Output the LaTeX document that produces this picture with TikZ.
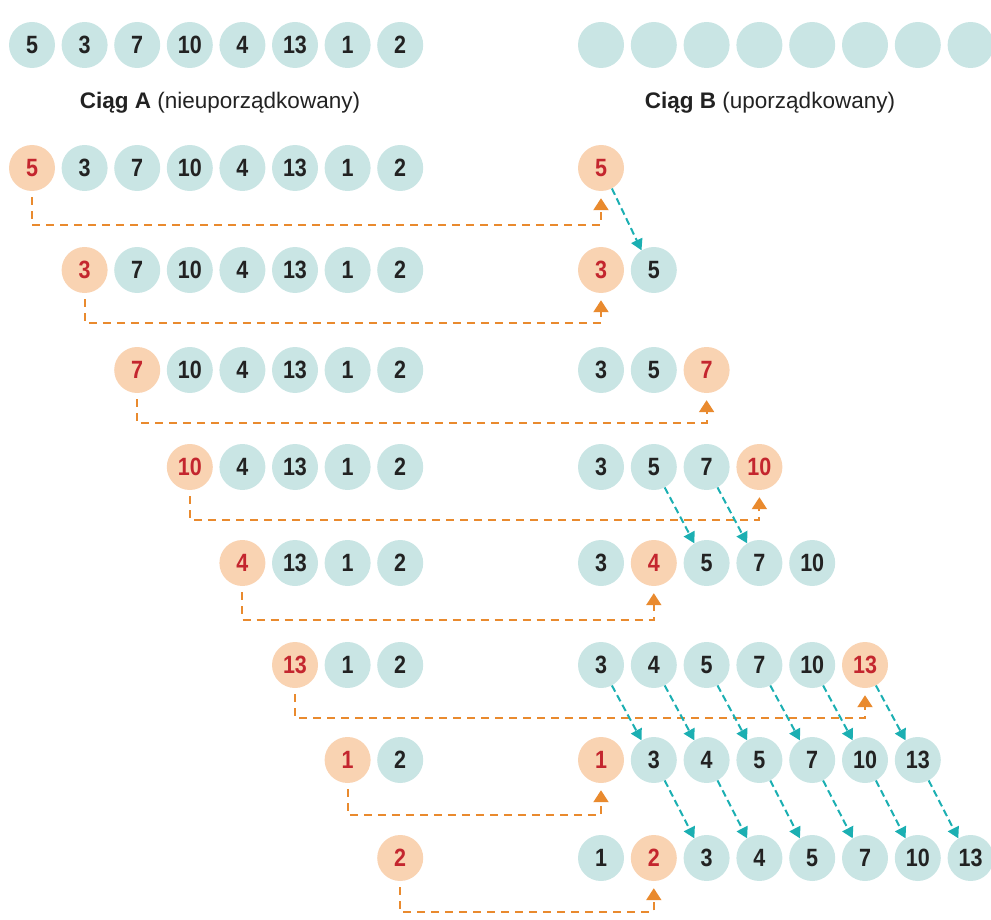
\documentclass[tikz,border=0pt]{standalone}
\usepackage{fontspec}
\setmainfont{Liberation Sans}
\newfontfamily\numfont{Liberation Sans}[FakeStretch=0.86]
\usetikzlibrary{arrows.meta}
\definecolor{cfill}{HTML}{C9E5E4}
\definecolor{ofill}{HTML}{F9D3B2}
\definecolor{rtext}{HTML}{C4262E}
\definecolor{dtext}{HTML}{222222}
\definecolor{oline}{HTML}{E98A2E}
\definecolor{cline}{HTML}{1BAFB2}
\tikzset{
 ball/.style={circle, fill=cfill, minimum size=46pt, inner sep=0pt, font=\numfont\fontsize{25}{25}\selectfont\bfseries, text=dtext},
 oball/.style={ball, fill=ofill, text=rtext},
 olink/.style={oline, line width=2pt, dash pattern=on 8pt off 6pt, -{Triangle[width=15pt,length=12pt]}},
 clink/.style={cline, line width=2pt, dash pattern=on 7pt off 4pt, -{Triangle[width=12pt,length=11pt]}},
 lbl/.style={font=\fontsize{22.5}{22.5}\selectfont, text=dtext}
}
\begin{document}
\begin{tikzpicture}[x=1pt,y=-1pt]
\useasboundingbox (0,0) rectangle (991,920);
% top rows
\foreach [count=\c] \v in {5,3,7,10,4,13,1,2} {
  \node[ball] (T-\c) at ({32+52.6*(\c-1)},45) {\v};
  \node[ball] (U-\c) at ({601+52.8*(\c-1)},45) {};
}
\node[lbl] (la) at (220,103) {\textbf{Ciąg A} (nieuporządkowany)};
\node[lbl] (lb) at (770,103) {\textbf{Ciąg B} (uporządkowany)};
% left rows
\foreach \r/\yy in {1/168,2/270,3/370,4/467,5/563,6/665,7/760,8/858} {
  \foreach [count=\c] \v in {5,3,7,10,4,13,1,2} {
    \ifnum\c<\r\relax\else
      \ifnum\c=\r\relax
        \node[oball] (L-\r-\c) at ({32+52.6*(\c-1)},\yy) {\v};
      \else
        \node[ball] (L-\r-\c) at ({32+52.6*(\c-1)},\yy) {\v};
      \fi
    \fi
  }
}
% right rows
\foreach \r/\yy/\vals/\o in {1/168/{5}/1, 2/270/{3,5}/1, 3/370/{3,5,7}/3, 4/467/{3,5,7,10}/4, 5/563/{3,4,5,7,10}/2, 6/665/{3,4,5,7,10,13}/6, 7/760/{1,3,4,5,7,10,13}/1, 8/858/{1,2,3,4,5,7,10,13}/2} {
  \foreach [count=\c] \v in \vals {
    \ifnum\c=\o\relax
      \node[oball] (R-\r-\c) at ({601+52.8*(\c-1)},\yy) {\v};
    \else
      \node[ball] (R-\r-\c) at ({601+52.8*(\c-1)},\yy) {\v};
    \fi
  }
}
% orange connectors
\foreach \r/\o/\hy in {1/1/225, 2/1/323, 3/3/423, 4/4/520, 5/2/620, 6/6/718, 7/1/815, 8/2/912} {
  \coordinate (h-\r) at (0,\hy);
  \draw[olink] ([yshift=-6pt]L-\r-\r.south) -- (L-\r-\r.south |- h-\r) -| ([yshift=-7pt]R-\r-\o.south);
}
% cyan shifts
\draw[clink] (R-1-1.-62) -- (R-2-2.122);
\foreach \a/\b in {2/3,3/4} {
  \draw[clink] (R-4-\a.-62) -- (R-5-\b.122);
}
\foreach \a in {1,...,6} {
  \pgfmathtruncatemacro\b{\a+1}
  \draw[clink] (R-6-\a.-62) -- (R-7-\b.122);
}
\foreach \a in {2,...,7} {
  \pgfmathtruncatemacro\b{\a+1}
  \draw[clink] (R-7-\a.-62) -- (R-8-\b.122);
}
\end{tikzpicture}
\end{document}
